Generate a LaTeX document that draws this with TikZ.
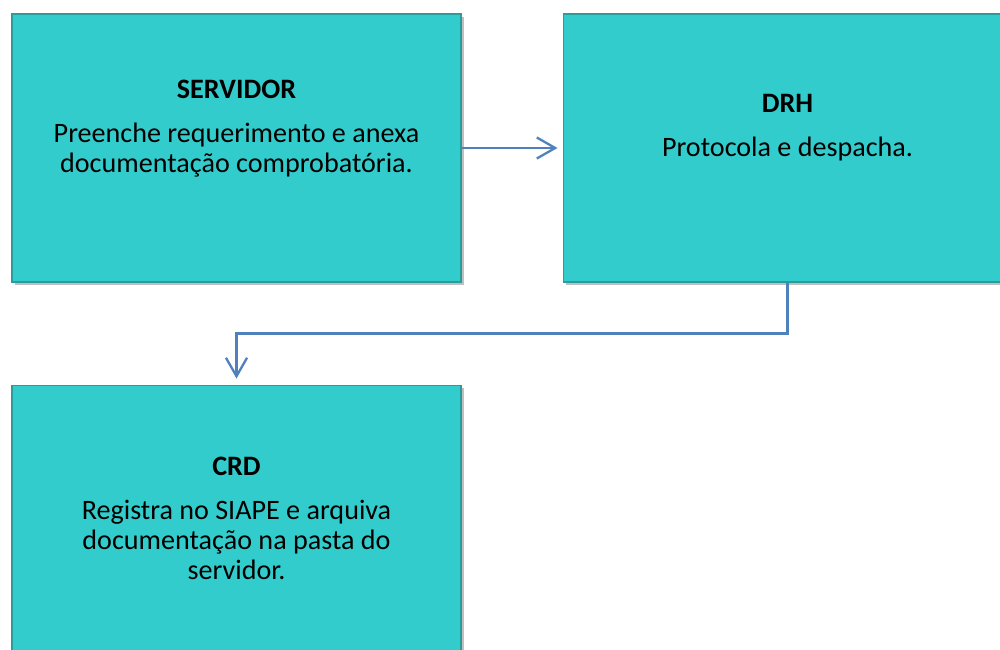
\documentclass[tikz,border=0pt]{standalone}
\usepackage{fontspec}
\setmainfont{Carlito}
\usetikzlibrary{positioning,arrows.meta,shadows}
\definecolor{turquesa}{HTML}{33CCCC}
\definecolor{bordateal}{HTML}{2A9C9C}
\definecolor{azulseta}{HTML}{4F81BD}

\begin{document}
\begin{tikzpicture}[
    caixa/.style={rectangle, draw=bordateal, line width=0.6pt, fill=turquesa,
        minimum width=8.98cm, minimum height=5.36cm,
        drop shadow={shadow xshift=0.05cm, shadow yshift=-0.06cm, opacity=0.25, fill=black}},
    texto/.style={align=center, inner sep=0pt, font=\fontsize{16}{17.3}\selectfont},
    seta/.style={draw=azulseta, line width=1.3pt, -{Straight Barb[length=10.5pt, width=12pt, line width=1.3pt]}}
  ]
    \useasboundingbox (0,0) rectangle (20,-13);
    \clip (0,0) rectangle (20,-13);

    % caixas do fluxo
    \node[caixa] (servidor) at (4.73, -2.96) {};
    \node[caixa, right=2.02cm of servidor] (drh) {};
    \node[caixa, below=2.04cm of servidor] (crd) {};

    % textos das caixas
    \node[texto] (servidortxt) at ([yshift=0.38cm]servidor.center)
        {\textbf{SERVIDOR}\\[7.5pt] Preenche requerimento e anexa\\ documentação comprobatória.};
    \node[texto] (drhtxt) at ([yshift=0.41cm]drh.center)
        {\textbf{DRH}\\[7.5pt] Protocola e despacha.};
    \node[texto] (crdtxt) at ([yshift=0.01cm]crd.center)
        {\textbf{CRD}\\[7.5pt] Registra no SIAPE e arquiva\\ documentação na pasta do\\ servidor.};

    % setas
    \draw[seta, shorten >=0.1cm] (servidor.east) -- (drh.west);
    \draw[seta, shorten >=0.12cm] (drh.south) -- ++(0,-1.02) -| (crd.north);

\end{tikzpicture}
\end{document}
